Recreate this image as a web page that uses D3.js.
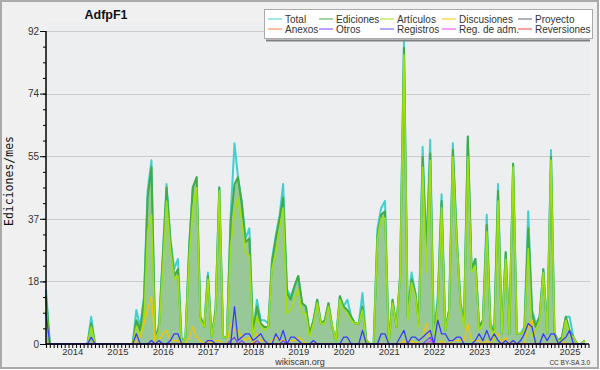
<!DOCTYPE html>
<html><head><meta charset="utf-8">
<script src="https://cdn.jsdelivr.net/npm/d3@7/dist/d3.min.js"></script>
<style>html,body{margin:0;padding:0;background:#fff;}svg{display:block;}</style>
</head><body>
<script>
// ---- data (monthly, starting Dec 2013) ----
const startYear = 2013, startMonth = 11;
const total = [16,0,0,0,0,0,0,0,0,0,0,0, 8,0,0,0,0,0,0,0,0,0,0,0,
  10,5,14,45,54,1,6,26,47,31,22,25, 1,2,30,46,49,8,5,21,2,10,46,2,
  2,38,59,49,42,31,34,3,13,7,7,6, 25,32,38,47,16,14,17,20,12,11,3,7,
  13,6,7,12,5,1,14,11,13,8,6,6, 15,1,0,0,34,40,42,0,13,5,20,89,
  8,21,15,6,58,27,60,2,14,44,4,10, 59,32,12,6,61,22,25,5,7,38,6,4,
  47,3,27,3,53,3,3,5,39,10,6,8, 22,3,57,3,1,2,8,8,2,0,0,1];
const ediciones = [14,0,0,0,0,0,0,0,0,0,0,0, 6,0,0,0,0,0,0,0,0,0,0,0,
  7,4,13,43,52,1,5,25,46,30,20,22, 0,2,29,46,49,8,5,20,2,10,46,2,
  2,36,47,49,41,30,31,3,11,6,5,5, 24,31,37,43,15,13,17,20,12,11,3,7,
  13,6,7,12,5,1,14,11,10,8,6,6, 11,1,0,0,32,38,39,0,13,5,20,87,
  8,19,15,6,55,27,56,2,12,42,4,10, 57,31,12,6,61,22,25,5,7,35,5,4,
  45,3,27,3,53,3,3,4,34,9,5,8, 22,3,55,3,1,2,8,4,2,0,0,1];
const articulos = [10,0,0,0,0,0,0,0,0,0,0,0, 5,0,0,0,0,0,0,0,0,0,0,0,
  5,2,7,33,38,1,4,22,42,28,19,20, 0,2,26,40,46,7,5,19,2,9,45,2,
  2,29,38,43,36,27,26,2,8,5,4,5, 22,27,34,40,9,10,13,16,9,9,2,6,
  12,6,6,11,5,1,13,10,9,7,6,6, 10,1,0,0,31,37,37,0,12,5,19,85,
  7,18,14,5,52,21,54,1,11,40,4,9, 55,30,11,5,55,21,23,4,6,33,5,1,
  42,3,25,3,52,3,3,4,28,2,4,7, 21,3,54,3,1,1,7,3,2,0,0,1];
const discusiones = [0,0,0,0,0,0,0,0,0,0,0,0, 0,0,0,0,0,0,0,0,0,0,0,0,
  1,2,6,10,14,0,1,3,4,1,1,1, 0,0,2,5,2,1,0,1,0,1,1,0,
  0,6,4,4,2,1,2,0,3,1,1,0, 1,2,1,1,1,1,1,2,1,0,0,0,
  0,0,0,0,0,0,0,0,0,0,0,0, 0,0,0,0,0,0,0,0,0,0,0,1,
  0,1,0,1,2,6,1,0,0,1,0,0, 1,1,1,1,6,1,1,1,0,1,0,3,
  3,0,2,0,1,0,0,0,5,7,0,0, 0,0,0,0,0,1,0,0,0,0,0,0];
const registros = [9,0,0,0,0,0,0,0,0,0,0,0, 2,0,0,0,0,0,0,0,0,0,0,0,
  3,0,0,0,1,0,1,0,0,1,3,3, 0,0,0,0,0,0,0,1,1,0,0,0,
  0,0,11,1,2,3,3,1,2,3,1,0, 0,3,1,4,0,2,2,1,0,0,0,1,
  0,0,0,0,0,0,0,2,2,0,0,0, 4,0,0,0,0,3,3,0,0,0,2,4,
  0,2,2,1,2,3,4,0,7,3,3,1, 1,2,2,0,0,0,1,3,1,4,1,3,
  1,0,1,0,1,0,1,3,6,5,0,0, 3,1,3,3,0,1,2,4,0,0,0,0];
const otros = [0,0,0,0,0,0,0,0,0,0,0,0, 0,0,0,0,0,0,0,0,0,0,0,0,
  0,0,0,0,0,0,0,0,0,0,0,0, 0,0,0,0,0,0,0,0,0,0,0,0,
  0,1,2,0,1,0,0,0,1,0,0,0, 0,0,0,1,0,0,0,0,0,0,0,0,
  0,0,0,0,0,0,0,0,0,0,0,0, 0,0,0,0,0,0,0,0,0,0,0,0,
  0,0,0,0,0,1,2,0,0,0,0,0, 0,0,0,0,0,0,0,0,0,0,0,0,
  0,0,0,0,0,0,0,0,0,0,0,0, 0,0,0,0,0,0,0,0,0,0,0,0];
const regAdm = otros.map(() => 0); regAdm[102] = 1;

const legendNames = ["Total","Ediciones","Artículos","Discusiones","Proyecto",
                     "Anexos","Otros","Registros","Reg. de adm.","Reversiones"];
const legendColors = ["#40d0d0","#44aa44","#a0e010","#f5c400","#666666",
                      "#ff8040","#8040ff","#5555ff","#ee40ee","#ff4040"];
const yTickValues = [0, 18.4, 36.8, 55.2, 73.6, 92];
const yTickLabels = ["0","18","37","55","74","92"];
const yearLabels = d3.range(2014, 2026);
const title = "AdfpF1";
const yTitle = "Ediciones/mes";

// ---- chart ----
const W = 600, H = 370;
const svg = d3.select("body").append("svg").attr("width", W).attr("height", H);
svg.append("rect").attr("x",1).attr("y",1).attr("width",597).attr("height",367)
  .attr("fill","#f0f0f0").attr("stroke","#aaaaaa").attr("stroke-width",2);

const months = total.map((_, i) => new Date(startYear, startMonth + i, 1));
const x = d3.scaleTime().domain([new Date(2013,11,1), new Date(2025,11,1)]).range([46, 588.5]);
const y = d3.scaleLinear().domain([0, 92]).range([344, 31]);

svg.append("rect").attr("x",46).attr("y",22).attr("width",544).attr("height",322).attr("fill","#edeef0");

// grid
svg.append("g").selectAll("line").data(yTickValues.slice(1)).join("line")
  .attr("x1",46).attr("x2",590).attr("y1",d=>Math.round(y(d))+0.5).attr("y2",d=>Math.round(y(d))+0.5)
  .attr("stroke","#cccccc").attr("stroke-width",1);

const pts = arr => arr.map((v,i)=>[months[i], v]);
const line = d3.line().x(d=>x(d[0])).y(d=>y(d[1]));
const area = d3.area().x(d=>x(d[0])).y0(y(0)).y1(d=>y(d[1]));

svg.append("path").attr("d", area(pts(ediciones))).attr("fill","#98c898");
const series = [
  [total, legendColors[0], 2],
  [ediciones, legendColors[1], 2],
  [articulos, legendColors[2], 1.6],
  [discusiones, legendColors[3], 1.3],
  [otros, legendColors[6], 1.2],
  [regAdm, legendColors[8], 1.2],
  [registros, "#3b3bff", 1.3]
];
series.forEach(([arr, c, w]) => {
  svg.append("path").attr("d", line(pts(arr))).attr("fill","none")
    .attr("stroke", c).attr("stroke-width", w).attr("stroke-linejoin","round");
});

// y axis
const yMinor = d3.range(0, 92.01, 4.6);
svg.append("g").attr("transform","translate(46,0)")
  .call(d3.axisLeft(y).tickValues(yMinor).tickSize(3).tickFormat(""))
  .call(g=>g.select(".domain").remove())
  .call(g=>g.selectAll("line").attr("stroke","#000"));
const yAx = svg.append("g").attr("transform","translate(46,0)")
  .call(d3.axisLeft(y).tickValues(yTickValues).tickSize(6).tickPadding(1)
        .tickFormat((d,i)=>yTickLabels[i]));
yAx.select(".domain").attr("stroke","#000").attr("stroke-width",1.5).attr("d","M0,31V344");
yAx.selectAll("line").attr("stroke","#000");
yAx.selectAll("text").attr("fill","#333").style("font","10px 'Liberation Sans', Arial, sans-serif");

// x axis
const xAx = svg.append("g").attr("transform","translate(0,344)")
  .call(d3.axisBottom(x).ticks(d3.timeMonth.every(1)).tickSize(4).tickFormat(""));
xAx.select(".domain").attr("stroke","#000").attr("stroke-width",1.5).attr("d","M46,0H589");
xAx.selectAll("line").attr("stroke","#000");
const xLab = svg.append("g").attr("transform","translate(0,344)")
  .call(d3.axisBottom(x).tickValues(yearLabels.map(yr=>new Date(yr,6,1))).tickSize(0).tickPadding(4)
        .tickFormat(d=>d.getFullYear()));
xLab.select(".domain").remove();
xLab.selectAll("text").attr("fill","#333").style("font","9.5px 'Liberation Sans', Arial, sans-serif");

// titles
svg.append("text").attr("x",106).attr("y",19).attr("text-anchor","middle")
  .style("font","bold 12.5px 'Liberation Sans', Arial, sans-serif").attr("fill","#111").text(title);
svg.append("text").attr("transform","translate(13,181) rotate(-90)").attr("text-anchor","middle")
  .style("font","11.5px 'DejaVu Sans Mono', monospace").attr("fill","#111").text(yTitle);
svg.append("text").attr("x",300).attr("y",365).attr("text-anchor","middle")
  .style("font","9px 'Liberation Sans', Arial, sans-serif").attr("fill","#333").text("wikiscan.org");
svg.append("text").attr("x",590).attr("y",365).attr("text-anchor","end")
  .style("font","6.5px 'Liberation Sans', Arial, sans-serif").attr("fill","#333").text("CC BY-SA 3.0");

// legend
svg.append("line").attr("x1",266).attr("x2",590).attr("y1",40.5).attr("y2",40.5)
  .attr("stroke","#808080").attr("stroke-width",2);
svg.append("rect").attr("x",264.5).attr("y",9.5).attr("width",328).attr("height",29)
  .attr("fill","#ffffff").attr("stroke","#aaaaaa");
const colX = [268, 319, 380, 442, 518];
const lg = svg.append("g").selectAll("g").data(legendNames).join("g")
  .attr("transform",(d,i)=>`translate(${colX[i%5]},${i<5?19:29})`);
lg.append("line").attr("x1",0).attr("x2",14).attr("stroke",(d,i)=>legendColors[i]).attr("stroke-width",1);
lg.append("text").attr("x",17).attr("y",3.5).text(d=>d).attr("fill","#333")
  .style("font","10px 'Liberation Sans', Arial, sans-serif");
</script>
</body></html>
